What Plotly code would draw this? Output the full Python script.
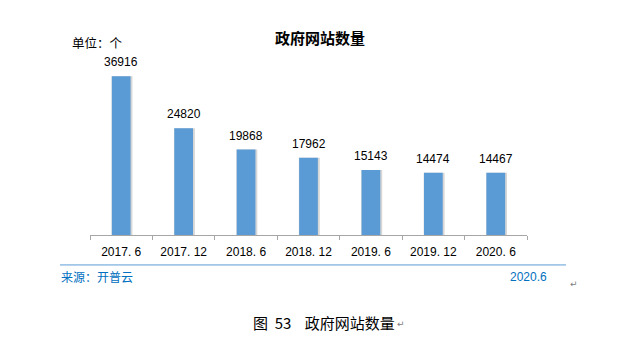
import plotly.graph_objects as go

categories = ["2017. 6", "2017. 12", "2018. 6", "2018. 12", "2019. 6", "2019. 12", "2020. 6"]
values = [36916, 24820, 19868, 17962, 15143, 14474, 14467]
labels = [str(v) for v in values]

W, H = 623, 353
L, R = 90, 527
T, B = 62.7, 235
pw, ph = R - L, B - T

def px(x):
    return (x - L) / pw

def py(y):
    return (B - y) / ph

fig = go.Figure()
# shadow
fig.add_trace(go.Bar(x=categories, y=values, width=0.335, offset=-0.155,
                     marker=dict(color="#D6D6D6", line=dict(width=0)),
                     hoverinfo="skip", showlegend=False))
fig.add_trace(go.Bar(x=categories, y=values, width=0.30, offset=-0.15,
                     marker=dict(color="#5B9BD5", line=dict(width=0)),
                     showlegend=False))

ann = [
    dict(text="<b>政府网站数量</b>", xref="paper", yref="paper", x=px(320), y=py(37),
         showarrow=False, xanchor="center", yanchor="middle",
         font=dict(family="Noto Sans CJK SC", size=15, color="#000000")),
    dict(text="单位：个", xref="paper", yref="paper", x=px(70), y=py(42),
         showarrow=False, xanchor="left", yanchor="middle",
         font=dict(family="Noto Sans CJK SC", size=12.5, color="#000000")),
    dict(text="来源：开普云", xref="paper", yref="paper", x=px(59), y=py(277),
         showarrow=False, xanchor="left", yanchor="middle",
         font=dict(family="Noto Sans CJK SC", size=12, color="#0070C0")),
    dict(text="2020.6", xref="paper", yref="paper", x=px(549), y=py(277),
         showarrow=False, xanchor="right", yanchor="middle",
         font=dict(family="Liberation Sans, Arial", size=12, color="#0070C0")),
    dict(text="↵", xref="paper", yref="paper", x=px(574), y=py(284),
         showarrow=False, xanchor="center", yanchor="middle",
         font=dict(family="DejaVu Sans", size=9, color="#808080")),
    dict(text="图  53    政府网站数量", xref="paper", yref="paper", x=px(251), y=py(323),
         showarrow=False, xanchor="left", yanchor="middle",
         font=dict(family="Noto Sans CJK SC", size=15, color="#000000")),
    dict(text="↵", xref="paper", yref="paper", x=px(401), y=py(324),
         showarrow=False, xanchor="center", yanchor="middle",
         font=dict(family="DejaVu Sans", size=9, color="#808080")),
]
for c, v, t in zip(categories, values, labels):
    ann.append(dict(text=t, x=c, y=v, xref="x", yref="y", showarrow=False,
                    xanchor="center", yanchor="bottom", yshift=5,
                    font=dict(family="Liberation Sans, Arial", size=12, color="#000000")))

fig.update_layout(
    width=W, height=H, barmode="overlay",
    margin=dict(l=L, r=W - R, t=T, b=H - B, pad=0),
    paper_bgcolor="white", plot_bgcolor="white",
    xaxis=dict(showline=True, linecolor="#A6A6A6", linewidth=1,
               ticks="outside", tickson="boundaries", ticklen=4, tickcolor="#A6A6A6",
               ticklabelstandoff=6,
               tickfont=dict(family="Liberation Sans, Arial", size=12, color="#000000"),
               showgrid=False, fixedrange=True),
    yaxis=dict(range=[0, 40000], visible=False, showgrid=False, fixedrange=True),
    shapes=[dict(type="line", xref="paper", yref="paper",
                 x0=px(60), x1=px(566), y0=py(265), y1=py(265),
                 line=dict(color="#5B9BD5", width=1))],
    annotations=ann,
)

fig.write_html("out.html")
